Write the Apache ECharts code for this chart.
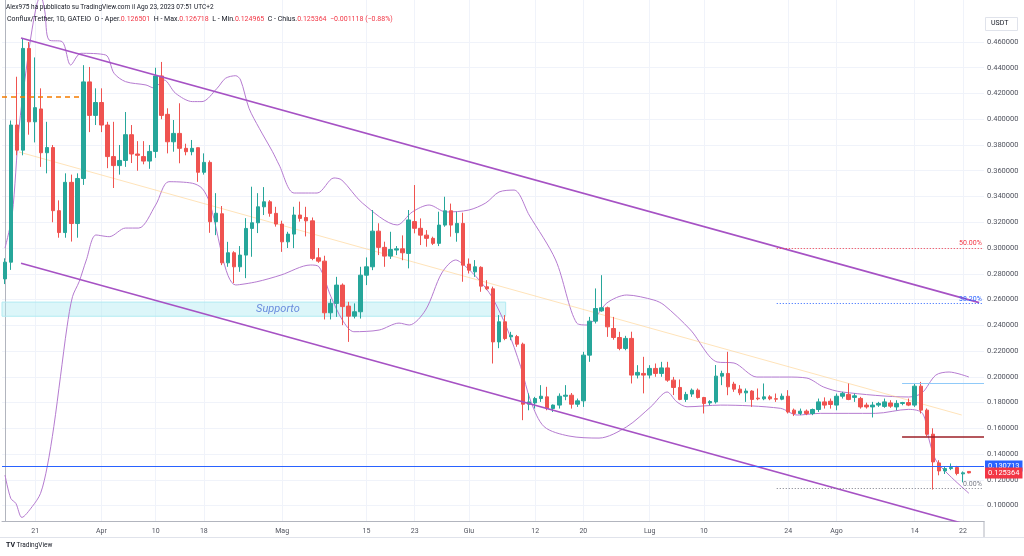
<!DOCTYPE html>
<html>
<head>
<meta charset="utf-8">
<script src="https://cdn.jsdelivr.net/npm/echarts@6/dist/echarts.min.js"></script>
<style>
html, body { margin: 0; padding: 0; background: #fff; }
#main { width: 1024px; height: 556px; }
</style>
</head>
<body>
<div id="main"></div>
<script>
// etichette asse tempo (indice giorno dal 16 mar)
var tickIndex = [5, 16, 25, 33, 46, 60, 68, 77, 88, 96, 107, 116, 130, 138, 151, 159];
var tickText = ['21', 'Apr', '10', '18', 'Mag', '15', '23', 'Giu', '12', '20', 'Lug', '10', '24', 'Ago', '14', '22'];
// etichette asse prezzi
var priceTicks = [0.10, 0.12, 0.14, 0.16, 0.18, 0.20, 0.22, 0.24, 0.26, 0.28, 0.30, 0.32, 0.34, 0.36, 0.38, 0.40, 0.42, 0.44, 0.46];

// candele giornaliere [apertura, massimo, minimo, chiusura]
var candles = [
	[0.276, 0.292, 0.272, 0.289], [0.289, 0.399, 0.283, 0.3955], [0.3955, 0.433, 0.372, 0.376], [0.376, 0.463, 0.372, 0.455],
	[0.455, 0.460, 0.388, 0.398], [0.398, 0.448, 0.382, 0.409], [0.408, 0.424, 0.363, 0.374], [0.374, 0.398, 0.358, 0.378],
	[0.378, 0.380, 0.320, 0.329], [0.329, 0.337, 0.308, 0.312], [0.312, 0.358, 0.308, 0.351], [0.351, 0.357, 0.305, 0.319],
	[0.319, 0.358, 0.308, 0.354], [0.354, 0.442, 0.349, 0.429], [0.429, 0.4406, 0.390, 0.403], [0.403, 0.424, 0.3955, 0.413],
	[0.413, 0.424, 0.390, 0.3955], [0.3955, 0.398, 0.362, 0.371], [0.371, 0.398, 0.3466, 0.364], [0.364, 0.380, 0.357, 0.368],
	[0.368, 0.4056, 0.363, 0.388], [0.388, 0.3955, 0.366, 0.373], [0.373, 0.383, 0.360, 0.372], [0.371, 0.383, 0.365, 0.3675],
	[0.3675, 0.380, 0.3615, 0.375], [0.375, 0.440, 0.370, 0.4336], [0.4336, 0.4445, 0.400, 0.403], [0.4038, 0.4085, 0.3735, 0.3825],
	[0.3825, 0.3994, 0.3748, 0.389], [0.389, 0.4124, 0.3658, 0.3774], [0.3774, 0.381, 0.372, 0.3748], [0.3748, 0.3839, 0.372, 0.3774],
	[0.3779, 0.378, 0.3514, 0.3588], [0.3588, 0.3735, 0.357, 0.3665], [0.3665, 0.368, 0.3118, 0.3204], [0.3204, 0.3426, 0.310, 0.327],
	[0.3266, 0.3326, 0.2867, 0.2885], [0.2885, 0.3048, 0.2854, 0.2963], [0.2963, 0.2975, 0.2727, 0.2854], [0.2854, 0.3015, 0.2815, 0.2945],
	[0.2945, 0.3232, 0.2766, 0.3152], [0.3152, 0.3476, 0.2932, 0.3196], [0.3196, 0.3426, 0.3116, 0.332], [0.332, 0.3473, 0.3256, 0.3359],
	[0.3359, 0.3372, 0.3243, 0.3269], [0.3269, 0.332, 0.3166, 0.3186], [0.3186, 0.3212, 0.297, 0.3048], [0.3048, 0.3126, 0.300, 0.3108],
	[0.3108, 0.332, 0.2999, 0.3256], [0.3256, 0.336, 0.3205, 0.323], [0.3237, 0.332, 0.309, 0.3211], [0.3211, 0.3237, 0.2905, 0.2919],
	[0.2924, 0.300, 0.2885, 0.2898], [0.2898, 0.294, 0.2445, 0.2497], [0.2497, 0.2605, 0.2445, 0.257], [0.257, 0.2776, 0.2465, 0.2712],
	[0.2712, 0.2725, 0.2401, 0.2545], [0.2549, 0.2582, 0.2271, 0.2471], [0.2471, 0.257, 0.2453, 0.2505], [0.2505, 0.2854, 0.2452, 0.2789],
	[0.2789, 0.2927, 0.2712, 0.2854], [0.2854, 0.3295, 0.2828, 0.3131], [0.3131, 0.3192, 0.2945, 0.3005], [0.3005, 0.3049, 0.2854, 0.2937],
	[0.2937, 0.3126, 0.2915, 0.2989], [0.2984, 0.3015, 0.2945, 0.2994], [0.2994, 0.3098, 0.2905, 0.2963], [0.2958, 0.3295, 0.2842, 0.3218],
	[0.3205, 0.3489, 0.3114, 0.3153], [0.3153, 0.323, 0.3023, 0.310], [0.310, 0.3139, 0.301, 0.3075], [0.3075, 0.3088, 0.3023, 0.3036],
	[0.3036, 0.3282, 0.3015, 0.3178], [0.3178, 0.3398, 0.3165, 0.3289], [0.3289, 0.3345, 0.3088, 0.3178], [0.3119, 0.3282, 0.3049, 0.3191],
	[0.3191, 0.3274, 0.2738, 0.2867], [0.2875, 0.2919, 0.2802, 0.2828], [0.2815, 0.2906, 0.2776, 0.2854], [0.285, 0.2858, 0.266, 0.2704],
	[0.2699, 0.275, 0.2673, 0.2683], [0.2683, 0.270, 0.2103, 0.2271], [0.2271, 0.2479, 0.2222, 0.2427], [0.2427, 0.2479, 0.2284, 0.2297],
	[0.231, 0.2349, 0.2284, 0.2322], [0.2312, 0.2325, 0.2233, 0.2253], [0.2253, 0.2265, 0.1663, 0.1787], [0.1787, 0.1871, 0.174, 0.1805],
	[0.1797, 0.1844, 0.1753, 0.1831], [0.1831, 0.1935, 0.1805, 0.1849], [0.1844, 0.1922, 0.174, 0.1754], [0.1754, 0.1785, 0.1727, 0.178],
	[0.178, 0.1871, 0.1753, 0.1849], [0.1849, 0.1935, 0.1818, 0.1857], [0.1857, 0.1874, 0.1753, 0.1787], [0.1787, 0.1831, 0.1766, 0.1813],
	[0.1813, 0.2194, 0.1766, 0.2168], [0.2168, 0.2465, 0.2116, 0.2432], [0.2432, 0.2686, 0.2414, 0.253], [0.2512, 0.2789, 0.2505, 0.2536],
	[0.2536, 0.2545, 0.231, 0.2388], [0.2375, 0.2465, 0.2288, 0.2305], [0.2305, 0.2349, 0.2206, 0.222], [0.222, 0.2318, 0.2206, 0.2298],
	[0.2298, 0.235, 0.1948, 0.2013], [0.2013, 0.209, 0.1987, 0.2034], [0.2026, 0.2155, 0.1871, 0.2013], [0.2013, 0.209, 0.1987, 0.2065],
	[0.2065, 0.2103, 0.200, 0.2026], [0.2026, 0.2116, 0.200, 0.2069], [0.2069, 0.2116, 0.1961, 0.1974], [0.1974, 0.1999, 0.1858, 0.1917],
	[0.1917, 0.1979, 0.1818, 0.1824], [0.1824, 0.1883, 0.1805, 0.1863], [0.1866, 0.1909, 0.1844, 0.1896], [0.1896, 0.1909, 0.1831, 0.1839],
	[0.1839, 0.1844, 0.1715, 0.1793], [0.1797, 0.1818, 0.1779, 0.1808], [0.1805, 0.2091, 0.1792, 0.2005], [0.2005, 0.2047, 0.1935, 0.2026],
	[0.2026, 0.2194, 0.1857, 0.1922], [0.1943, 0.1961, 0.1883, 0.1904], [0.1904, 0.1935, 0.1857, 0.1875], [0.1875, 0.1909, 0.1805, 0.1889],
	[0.1889, 0.1896, 0.1766, 0.1824], [0.1834, 0.1909, 0.1818, 0.1829], [0.1829, 0.1948, 0.1818, 0.1844], [0.1844, 0.1857, 0.1818, 0.1829],
	[0.183, 0.187, 0.1805, 0.1826], [0.1826, 0.187, 0.1818, 0.1849], [0.1849, 0.1896, 0.1715, 0.1727], [0.1741, 0.1753, 0.1695, 0.1715],
	[0.1715, 0.1753, 0.1702, 0.1733], [0.1733, 0.1746, 0.1702, 0.1715], [0.1715, 0.1753, 0.1702, 0.1746], [0.1746, 0.1831, 0.1727, 0.1805],
	[0.1805, 0.184, 0.1753, 0.178], [0.181, 0.1831, 0.1753, 0.1785], [0.178, 0.187, 0.174, 0.1849], [0.1849, 0.1883, 0.1831, 0.1871],
	[0.1863, 0.1948, 0.1818, 0.1824], [0.184, 0.187, 0.1805, 0.1852], [0.1832, 0.1844, 0.1753, 0.1766], [0.178, 0.1799, 0.1753, 0.1766],
	[0.1766, 0.1805, 0.1684, 0.178], [0.178, 0.1805, 0.1766, 0.1793], [0.177, 0.1831, 0.1759, 0.1805], [0.1797, 0.1818, 0.1759, 0.1772],
	[0.1766, 0.1818, 0.174, 0.1793], [0.1793, 0.1805, 0.1779, 0.180], [0.180, 0.1831, 0.1772, 0.178], [0.178, 0.1948, 0.1766, 0.1927],
	[0.1927, 0.196, 0.1715, 0.1741], [0.1741, 0.1754, 0.1538, 0.1554], [0.1554, 0.160, 0.1124, 0.1339], [0.1331, 0.1352, 0.1235, 0.1269],
	[0.1269, 0.130, 0.1245, 0.1287], [0.1287, 0.1327, 0.1275, 0.1295], [0.1295, 0.1308, 0.1235, 0.1249], [0.1246, 0.1265, 0.118, 0.1254],
	[0.126501, 0.126718, 0.124965, 0.125364]
];

// bande di Bollinger [indice giorno, prezzo]
var bbUpper = [[0, 0.30], [1.2, 0.326], [2.3, 0.392], [3.5, 0.438], [4.5, 0.470], [5.3, 0.4895], [5.9, 0.496], [6.6, 0.484],
	[7.3, 0.4616], [9.5, 0.4602], [10.9, 0.4421], [12.6, 0.4512], [16.7, 0.4499], [18.1, 0.4357], [20, 0.4292], [23.4, 0.4266],
	[24.7, 0.4243], [26.4, 0.4305], [28.3, 0.4202], [31.1, 0.4137], [32.7, 0.4137], [35.2, 0.424], [36.6, 0.4318], [38.3, 0.4338],
	[39.1, 0.4305], [40.5, 0.4085], [42.2, 0.393], [44.4, 0.3748], [45.5, 0.3645], [48, 0.3427], [51.8, 0.3427], [54.6, 0.3544],
	[55.9, 0.3528], [59.3, 0.335], [65.1, 0.3179], [67.6, 0.328], [70.4, 0.3334], [73.2, 0.328], [77, 0.3295], [79.8, 0.335],
	[82, 0.3435], [84.5, 0.345], [87, 0.3256], [91.4, 0.2907], [94.9, 0.2417], [96.6, 0.2402], [99.9, 0.2573], [103.2, 0.2635],
	[107.7, 0.2596], [109.4, 0.2557], [113.8, 0.2363], [118.2, 0.2115], [121, 0.2107], [124.8, 0.1998], [129.8, 0.1998],
	[133.1, 0.199], [135.9, 0.192], [138.9, 0.1882], [150, 0.1843], [152.2, 0.1874], [154.5, 0.2013], [156.7, 0.2037], [160, 0.1998]];
var bbLower = [[0, 0.1237], [0.95, 0.1056], [1.8, 0.1017], [2.8, 0.0908], [4.5, 0.0991], [5.9, 0.1095], [7, 0.1301], [8.1, 0.1612],
	[9.2, 0.2], [10.3, 0.2389], [11.2, 0.2622], [12.3, 0.2738], [13.5, 0.2907], [15.1, 0.3101], [17.3, 0.3088], [20, 0.3155],
	[22.2, 0.3155], [25, 0.3334], [27.2, 0.3515], [31.1, 0.3503], [32.7, 0.3464], [33.9, 0.336], [38.3, 0.2713], [41.8, 0.2738],
	[45.8, 0.279], [50.7, 0.2868], [52.1, 0.2855], [54.1, 0.2622], [56, 0.2441], [57.9, 0.235], [62.1, 0.2363], [65.4, 0.2417],
	[67.1, 0.2402], [69.8, 0.2518], [72.5, 0.2806], [74.8, 0.2907], [76.5, 0.2855], [78.7, 0.2751], [80.8, 0.2622], [83.3, 0.2379],
	[85.6, 0.2078], [87.3, 0.1806], [89.5, 0.1612], [93.6, 0.154], [98.6, 0.1524], [103.2, 0.1612], [107.2, 0.1767], [109.9, 0.1882],
	[111.5, 0.1806], [113.2, 0.1767], [118.8, 0.178], [128.7, 0.1755], [131.5, 0.1703], [135.4, 0.1716], [144.5, 0.1716],
	[150, 0.1747], [152.3, 0.1716], [153.4, 0.1509], [154.5, 0.1353], [156.7, 0.1237], [160, 0.1095]];

// disegni: canale discendente e linea di tendenza
var upperChannel = [[2.66, 0.4631], [161.7, 0.2576]];
var lowerChannel = [[2.66, 0.2881], [162.5, 0.0816]];
var faintTrend = [[2.3, 0.3746], [158.8, 0.1703]];

var supportZone = [0.247, 0.258];
var supportRange = [-0.5, 83.1];
var fibLevels = [0.300, 0.257, 0.1133];
var fibText = ['50.00%', '38.20%', '0.00%'];
var fibColors = ['#f23645', '#2962ff', '#787b86'];
var fibRange = [128.1, 162.3];
var orangeLevel = 0.4175, orangeRange = [-0.5, 12.8];
var redLevel = 0.1535, cyanLevel = 0.1948, rightRange = [148.9, 162.5];
var fullRange = [-0.5, 162.5];
var blueLevel = 0.130713, lastClose = 0.125364;

var days = [];
for (var i = 0; i < 163; i++) {
	var d = new Date(2023, 2, 16 + i);
	days.push(d.getFullYear() + '-' + (d.getMonth() + 1) + '-' + d.getDate());
}
var candleData = candles.map(function (c) { return [c[0], c[3], c[2], c[1]]; });

var font = 'Roboto, "Noto Sans", sans-serif';

function segment(level, range, color, type, width, text) {
	var seg = [{ coord: [range[0], level] }, { coord: [range[1], level] }];
	seg[0].lineStyle = { color: color, type: type, width: width };
	if (text) {
		seg[0].label = { show: true, formatter: text, position: 'insideEndTop', color: color, fontSize: 7, fontFamily: font, distance: 1 };
	} else {
		seg[0].label = { show: false };
	}
	return seg;
}

// etichetta di prezzo sull'asse destro
function priceTag(level, color, lineColor) {
	var seg = [{ coord: [fullRange[0], level] }, { coord: [fullRange[1], level] }];
	seg[0].lineStyle = { color: lineColor, type: 'solid', width: 1 };
	seg[0].label = {
		show: true, position: 'end', distance: 1, formatter: level.toFixed(6),
		color: '#fff', backgroundColor: color, padding: [2, 3, 1, 3],
		fontSize: 7.5, fontFamily: font
	};
	return seg;
}

var chart = echarts.init(document.getElementById('main'));

var markSegments = [
	segment(orangeLevel, orangeRange, '#f57c00', [5, 4], 1.5),
	segment(redLevel, rightRange, '#9c1f27', 'solid', 1.5),
	segment(cyanLevel, rightRange, '#90caf9', 'solid', 1)
];
for (var k = 0; k < fibLevels.length; k++) {
	markSegments.push(segment(fibLevels[k], fibRange, fibColors[k], [1, 2], 1, fibText[k]));
}
markSegments.push(priceTag(blueLevel, '#2962ff', '#2962ff'));
markSegments.push(priceTag(lastClose, '#f23645', 'rgba(255,255,255,0)'));

var option = {
	animation: false,
	backgroundColor: '#fff',
	grid: { left: 2, right: 40, top: 0, bottom: 35 },
	xAxis: [
		{
			type: 'category',
			data: days,
			show: false,
			boundaryGap: true
		},
		{
			type: 'value',
			min: -0.5,
			max: 162.5,
			position: 'bottom',
			axisLine: { show: true, onZero: false, lineStyle: { color: '#b2b5be' } },
			axisTick: { show: false, customValues: tickIndex },
			axisLabel: {
				customValues: tickIndex,
				formatter: function (v) {
					var k = tickIndex.indexOf(Math.round(v));
					return k >= 0 ? tickText[k] : '';
				},
				fontSize: 7, color: '#50535e', fontFamily: font, margin: 7
			},
			splitLine: { show: true, lineStyle: { color: '#f0f3fa' } }
		}
	],
	yAxis: {
		type: 'value',
		position: 'right',
		min: 0.088,
		max: 0.4926,
		scale: true,
		axisLine: { show: true, lineStyle: { color: '#b2b5be' } },
		axisTick: { show: false, customValues: priceTicks },
		axisLabel: {
			customValues: priceTicks,
			formatter: function (v) { return v.toFixed(6); },
			fontSize: 7.5, color: '#50535e', fontFamily: font, margin: 3
		},
		splitLine: { show: true, lineStyle: { color: '#f0f3fa' } }
	},
	series: [
		{
			name: 'Supporto',
			type: 'line',
			xAxisIndex: 1,
			data: [],
			z: 1,
			markArea: {
				silent: true,
				itemStyle: { color: 'rgba(178,235,242,0.45)', borderColor: '#b2ebf2', borderWidth: 1 },
				data: [[{ coord: [supportRange[0], supportZone[1]] }, { coord: [supportRange[1], supportZone[0]] }]]
			}
		},
		{
			name: 'Supporto testo',
			type: 'scatter',
			xAxisIndex: 1,
			symbolSize: 0,
			z: 6,
			data: [[45.3, (supportZone[0] + supportZone[1]) / 2]],
			label: {
				show: true, position: 'inside', formatter: 'Supporto',
				color: '#4c6fd6', fontSize: 11, fontStyle: 'italic', fontFamily: font
			}
		},
		{
			name: 'BB sup',
			type: 'line',
			xAxisIndex: 1,
			data: bbUpper,
			smooth: 0.3,
			showSymbol: false,
			z: 2,
			lineStyle: { color: '#b57bd0', width: 1 }
		},
		{
			name: 'BB inf',
			type: 'line',
			xAxisIndex: 1,
			data: bbLower,
			smooth: 0.3,
			showSymbol: false,
			z: 2,
			lineStyle: { color: '#b57bd0', width: 1 }
		},
		{
			name: 'Tendenza',
			type: 'line',
			xAxisIndex: 1,
			data: faintTrend,
			showSymbol: false,
			z: 2,
			lineStyle: { color: 'rgba(255,204,128,0.55)', width: 1 }
		},
		{
			name: 'Canale sup',
			type: 'line',
			xAxisIndex: 1,
			data: upperChannel,
			showSymbol: false,
			z: 4,
			lineStyle: { color: '#a652c4', width: 1.6 }
		},
		{
			name: 'Canale inf',
			type: 'line',
			xAxisIndex: 1,
			data: lowerChannel,
			showSymbol: false,
			z: 4,
			lineStyle: { color: '#a652c4', width: 1.6 }
		},
		{
			name: 'Livelli',
			type: 'line',
			xAxisIndex: 1,
			data: [],
			z: 5,
			markLine: {
				silent: true,
				symbol: 'none',
				data: markSegments
			}
		},
		{
			name: 'Conflux/Tether',
			type: 'candlestick',
			xAxisIndex: 0,
			data: candleData,
			barWidth: '66%',
			z: 3,
			itemStyle: {
				color: '#26a69a', color0: '#ef5350',
				borderColor: '#26a69a', borderColor0: '#ef5350', borderWidth: 1
			}
		}
	],
	graphic: [
		{
			type: 'text', left: 6, top: 4, z: 100,
			style: {
				text: 'Alex975 ha pubblicato su TradingView.com il Ago 23, 2023 07:51 UTC+2',
				font: '6.5px ' + font, fill: '#131722'
			}
		},
		{
			type: 'text', left: 7, top: 16, z: 100,
			style: {
				text: 'Conflux/Tether, 1D, GATEIO  O - Aper.{r|0.126501}  H - Max.{r|0.126718}  L - Min.{r|0.124965}  C - Chius.{r|0.125364}  {r|\u22120.001118 (\u22120.88%)}',
				font: '7px ' + font, fill: '#131722',
				rich: { r: { fill: '#f23645', font: '7px ' + font } }
			}
		},
		{
			type: 'rect', left: 985, top: 17, z: 100,
			shape: { width: 32, height: 13 },
			style: { fill: '#fff', stroke: '#e0e3eb', lineWidth: 1 }
		},
		{
			type: 'text', left: 991, top: 20, z: 101,
			style: { text: 'USDT', font: '7px ' + font, fill: '#131722' }
		},
		{
			type: 'line', z: 100,
			shape: { x1: 0, y1: 537.5, x2: 1024, y2: 537.5 },
			style: { stroke: '#e0e3eb', lineWidth: 1 }
		},
		{
			type: 'line', z: 100,
			shape: { x1: 984, y1: 521, x2: 984, y2: 537 },
			style: { stroke: '#b2b5be', lineWidth: 1 }
		},
		{
			type: 'text', left: 6, top: 542, z: 100,
			style: {
				text: '{b|TV} TradingView',
				font: '6.5px ' + font, fill: '#131722',
				rich: { b: { font: 'bold 7px ' + font, fill: '#131722' } }
			}
		}
	]
};

chart.setOption(option);
</script>
</body>
</html>
